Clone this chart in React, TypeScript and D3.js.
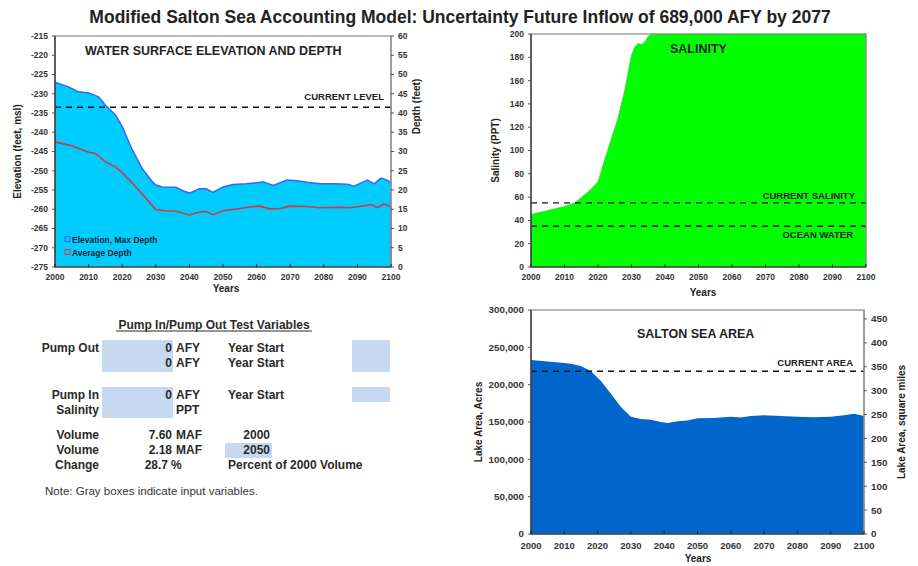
import React from 'react';
import * as d3 from 'd3';

const FONT = "'Liberation Sans', Arial, Helvetica, sans-serif";

// Water surface elevation (ft, msl) — top of the blue area
const elevYears = [2000, 2004, 2007, 2010, 2013, 2015, 2018, 2020, 2023, 2026, 2029, 2030, 2032, 2036, 2038, 2040, 2043, 2045, 2047, 2050, 2053, 2057, 2062, 2065, 2069, 2072, 2075, 2079, 2083, 2087, 2089, 2091, 2093, 2095, 2097, 2099, 2100];
const elevation = [-227, -228.2, -229.5, -229.8, -230.8, -233, -235.5, -238.5, -244.6, -249.5, -252.9, -253.7, -254.2, -254.3, -255.2, -255.8, -254.7, -254.7, -255.6, -254.2, -253.6, -253.4, -252.9, -253.8, -252.4, -252.6, -253, -253.4, -253.4, -253.5, -254, -253.2, -252.4, -253.4, -251.9, -252.5, -253];

// Average depth (ft) — red line, right axis
const depthYears = [2000, 2005, 2010, 2012, 2015, 2018, 2020, 2023, 2027, 2030, 2033, 2036, 2040, 2043, 2045, 2047, 2050, 2055, 2058, 2061, 2064, 2067, 2070, 2075, 2079, 2084, 2088, 2091, 2094, 2096, 2098, 2100];
const avgDepth = [32.5, 31.5, 29.8, 29.5, 27.3, 26, 24.5, 21.8, 17.9, 14.9, 14.6, 14.5, 13.5, 14.3, 14.4, 13.6, 14.6, 15.2, 15.6, 15.8, 15.1, 15.2, 15.8, 15.7, 15.4, 15.5, 15.4, 15.8, 16.2, 15.4, 16.4, 15.6];

// Salinity (PPT)
const salYears = [2000, 2005, 2010, 2013, 2016, 2018, 2020, 2022, 2024, 2026, 2028, 2030, 2031, 2032, 2033, 2034, 2035, 2036, 2040, 2050, 2060, 2070, 2080, 2090, 2100];
const salinity = [45, 48.5, 52, 55, 62, 67, 73, 92, 110, 128, 152, 182, 189, 192, 191, 193, 198, 205, 225, 250, 265, 275, 280, 285, 290];

// Lake area (acres)
const areaYears = [2000, 2005, 2010, 2012, 2015, 2018, 2021, 2024, 2027, 2030, 2033, 2036, 2039, 2041, 2044, 2047, 2050, 2055, 2060, 2063, 2066, 2070, 2075, 2080, 2085, 2090, 2094, 2097, 2100];
const lakeArea = [233000, 231000, 229000, 228000, 225000, 218000, 205000, 188000, 170000, 157000, 154000, 153000, 150000, 148500, 151000, 152000, 155000, 155500, 157000, 156000, 158000, 159000, 158000, 157000, 156500, 157000, 159000, 161000, 158000];

// Reference levels
const currentLevel = -233.5;
const currentSalinity = 55;
const oceanSalinity = 35;
const currentArea = 218000;

const yearTicks = d3.range(2000, 2101, 10);
const elevTicks = d3.range(-275, -214, 5);
const depthTicks = d3.range(0, 61, 5);
const salTicks = d3.range(0, 201, 20);
const acreTicks = d3.range(0, 300001, 50000);
const sqmiTicks = d3.range(0, 451, 50);

const BLUE_LIGHT = '#00CCFF';
const BLUE_LINE = '#3366FF';
const RED = '#D23A3A';
const GREEN = '#00FF00';
const BLUE_DARK = '#0066CC';
const INPUT = '#C6D9F1';
const INK = '#222';

type Box = { x0: number; x1: number; y0: number; y1: number };

function Frame({ b }: { b: Box }) {
  return (
    <rect x={b.x0} y={b.y0} width={b.x1 - b.x0} height={b.y1 - b.y0}
      fill="none" stroke="#8a8a8a" strokeWidth={1.2} />
  );
}

function XAxis({ b, x, fs, dy }: { b: Box; x: d3.ScaleLinear<number, number>; fs: number; dy: number }) {
  return (
    <g>
      <line x1={b.x0} x2={b.x1} y1={b.y1} y2={b.y1} stroke={INK} strokeWidth={1.2} />
      {yearTicks.map(t => (
        <g key={t}>
          <line x1={x(t)} x2={x(t)} y1={b.y1} y2={b.y1 - 3} stroke={INK} />
          <text x={x(t)} y={b.y1 + dy} textAnchor="middle" fontSize={fs} fontWeight="bold" fill="#333">{t}</text>
        </g>
      ))}
    </g>
  );
}

function YAxis({ b, y, ticks, fs, side, fmt }: {
  b: Box; y: d3.ScaleLinear<number, number>; ticks: number[]; fs: number; side: 'left' | 'right'; fmt: (v: number) => string;
}) {
  const ax = side === 'left' ? b.x0 : b.x1;
  const tx = side === 'left' ? ax - 7 : ax + 7;
  return (
    <g>
      <line x1={ax} x2={ax} y1={b.y0} y2={b.y1} stroke={side === 'left' ? INK : '#8a8a8a'} strokeWidth={1.2} />
      {ticks.map(t => (
        <g key={t}>
          <line x1={ax} x2={side === 'left' ? ax - 3 : ax + 3} y1={y(t)} y2={y(t)} stroke="#555" />
          <text x={tx} y={y(t)} dy="0.35em" textAnchor={side === 'left' ? 'end' : 'start'}
            fontSize={fs} fontWeight="bold" fill="#333">{fmt(t)}</text>
        </g>
      ))}
    </g>
  );
}

function Dashed({ b, yv }: { b: Box; yv: number }) {
  return <line x1={b.x0} x2={b.x1} y1={yv} y2={yv} stroke="#111" strokeWidth={1.3} strokeDasharray="6,5" />;
}

const LABEL = { fontWeight: 'bold' as const, fill: INK };

function ElevationChart() {
  const b: Box = { x0: 55, x1: 391, y0: 36, y1: 267 };
  const x = d3.scaleLinear().domain([2000, 2100]).range([b.x0, b.x1]);
  const y = d3.scaleLinear().domain([-275, -215]).range([b.y1, b.y0]);
  const yd = d3.scaleLinear().domain([0, 60]).range([b.y1, b.y0]);
  const pts = elevYears.map((yr, i) => ({ yr, v: elevation[i] }));
  const area = d3.area<{ yr: number; v: number }>().x(d => x(d.yr)).y0(b.y1).y1(d => y(d.v));
  const topLine = d3.line<{ yr: number; v: number }>().x(d => x(d.yr)).y(d => y(d.v));
  const dpts = depthYears.map((yr, i) => ({ yr, v: avgDepth[i] }));
  const dLine = d3.line<{ yr: number; v: number }>().x(d => x(d.yr)).y(d => yd(d.v));
  return (
    <g>
      <path d={area(pts)!} fill={BLUE_LIGHT} />
      <path d={topLine(pts)!} fill="none" stroke={BLUE_LINE} strokeWidth={1.5} />
      <path d={dLine(dpts)!} fill="none" stroke={RED} strokeWidth={1.6} />
      <line x1={b.x1} x2={b.x1} y1={yd(avgDepth[avgDepth.length - 1])} y2={b.y1} stroke={RED} strokeWidth={1.2} />
      <Dashed b={b} yv={y(currentLevel)} />
      <Frame b={b} />
      <YAxis b={b} y={y} ticks={elevTicks} fs={8.5} side="left" fmt={v => String(v)} />
      <YAxis b={b} y={yd} ticks={depthTicks} fs={8.5} side="right" fmt={v => String(v)} />
      <XAxis b={b} x={x} fs={8.5} dy={13} />
      <text x={85} y={55} fontSize={12.5} {...LABEL}>WATER SURFACE ELEVATION AND DEPTH</text>
      <text x={384} y={100} textAnchor="end" fontSize={9.5} {...LABEL}>CURRENT LEVEL</text>
      <rect x={65} y={236.5} width={5} height={5} fill={BLUE_LIGHT} stroke={BLUE_LINE} strokeWidth={1} />
      <text x={72} y={242.5} fontSize={8.5} fontWeight="bold" fill="#223">Elevation, Max Depth</text>
      <rect x={65} y={249.5} width={5} height={5} fill={BLUE_LIGHT} stroke={RED} strokeWidth={1} />
      <text x={72} y={255.5} fontSize={8.5} fontWeight="bold" fill="#223">Average Depth</text>
      <text x={226} y={292} textAnchor="middle" fontSize={10} {...LABEL}>Years</text>
      <text transform={`translate(21,${(b.y0 + b.y1) / 2}) rotate(-90)`} textAnchor="middle" fontSize={10} {...LABEL}>Elevation (feet, msl)</text>
      <text transform={`translate(420,${(b.y0 + b.y1) / 2 - 45}) rotate(-90)`} textAnchor="middle" fontSize={10} {...LABEL}>Depth (feet)</text>
    </g>
  );
}

function SalinityChart() {
  const b: Box = { x0: 531, x1: 866, y0: 34, y1: 267 };
  const x = d3.scaleLinear().domain([2000, 2100]).range([b.x0, b.x1]);
  const y = d3.scaleLinear().domain([0, 200]).range([b.y1, b.y0]).clamp(true);
  const pts = salYears.map((yr, i) => ({ yr, v: salinity[i] }));
  const area = d3.area<{ yr: number; v: number }>().x(d => x(d.yr)).y0(b.y1).y1(d => y(d.v));
  return (
    <g>
      <path d={area(pts)!} fill={GREEN} stroke="#22cc22" strokeWidth={0.6} />
      <Dashed b={b} yv={y(currentSalinity)} />
      <Dashed b={b} yv={y(oceanSalinity)} />
      <Frame b={b} />
      <YAxis b={b} y={y} ticks={salTicks} fs={8.5} side="left" fmt={v => String(v)} />
      <XAxis b={b} x={x} fs={8.5} dy={13} />
      <text x={670} y={53} fontSize={12.5} {...LABEL}>SALINITY</text>
      <text x={855} y={199} textAnchor="end" fontSize={9.5} {...LABEL}>CURRENT SALINITY</text>
      <text x={853} y={238} textAnchor="end" fontSize={9.5} {...LABEL}>OCEAN WATER</text>
      <text x={703} y={296} textAnchor="middle" fontSize={10} {...LABEL}>Years</text>
      <text transform={`translate(499,${(b.y0 + b.y1) / 2}) rotate(-90)`} textAnchor="middle" fontSize={10} {...LABEL}>Salinity (PPT)</text>
    </g>
  );
}

function AreaChart() {
  const b: Box = { x0: 531, x1: 864, y0: 310, y1: 534 };
  const x = d3.scaleLinear().domain([2000, 2100]).range([b.x0, b.x1]);
  const y = d3.scaleLinear().domain([0, 300000]).range([b.y1, b.y0]);
  const ys = d3.scaleLinear().domain([0, 300000 / 640]).range([b.y1, b.y0]);
  const pts = areaYears.map((yr, i) => ({ yr, v: lakeArea[i] }));
  const area = d3.area<{ yr: number; v: number }>().x(d => x(d.yr)).y0(b.y1).y1(d => y(d.v));
  const fmt = d3.format(',');
  return (
    <g>
      <path d={area(pts)!} fill={BLUE_DARK} />
      <Dashed b={b} yv={y(currentArea)} />
      <Frame b={b} />
      <YAxis b={b} y={y} ticks={acreTicks} fs={9.8} side="left" fmt={v => fmt(v)} />
      <YAxis b={b} y={ys} ticks={sqmiTicks} fs={9.8} side="right" fmt={v => String(v)} />
      <XAxis b={b} x={x} fs={9.5} dy={15} />
      <text x={637} y={338} fontSize={12.5} {...LABEL}>SALTON SEA AREA</text>
      <text x={853} y={366} textAnchor="end" fontSize={9.5} {...LABEL}>CURRENT AREA</text>
      <text x={698} y={562} textAnchor="middle" fontSize={10} {...LABEL}>Years</text>
      <text transform={`translate(482,${(b.y0 + b.y1) / 2}) rotate(-90)`} textAnchor="middle" fontSize={10} {...LABEL}>Lake Area, Acres</text>
      <text transform={`translate(905,${(b.y0 + b.y1) / 2}) rotate(-90)`} textAnchor="middle" fontSize={10} {...LABEL}>Lake Area, square miles</text>
    </g>
  );
}

// Pump in / pump out test variable table
const tableRows = [
  { label: 'Pump Out', value: '0', unit: 'AFY', note: 'Year Start', y: 352 },
  { label: '', value: '0', unit: 'AFY', note: 'Year Start', y: 367 },
  { label: 'Pump In', value: '0', unit: 'AFY', note: 'Year Start', y: 399 },
  { label: 'Salinity', value: '', unit: 'PPT', note: '', y: 414 },
];
const volumeRows = [
  { label: 'Volume', value: '7.60', unit: 'MAF', note: '2000', y: 439 },
  { label: 'Volume', value: '2.18', unit: 'MAF', note: '2050', y: 454 },
  { label: 'Change', value: '28.7', unit: '%', note: 'Percent of 2000 Volume', y: 469 },
];

function InputTable() {
  const t = { fontSize: 12, fontWeight: 'bold' as const, fill: '#2a2a2a' };
  return (
    <g>
      <rect x={102} y={340} width={71} height={32} fill={INPUT} />
      <rect x={352} y={340} width={38} height={32} fill={INPUT} />
      <rect x={102} y={387} width={71} height={31} fill={INPUT} />
      <rect x={352} y={387} width={38} height={15} fill={INPUT} />
      <rect x={225} y={443} width={47} height={15} fill={INPUT} />
      <text x={214} y={329} textAnchor="middle" {...t}>Pump In/Pump Out Test Variables</text>
      <line x1={116} x2={312} y1={331} y2={331} stroke="#2a2a2a" strokeWidth={1} />
      {tableRows.map((r, i) => (
        <g key={i}>
          {r.label && <text x={99} y={r.y} textAnchor="end" {...t}>{r.label}</text>}
          {r.value && <text x={172} y={r.y} textAnchor="end" {...t}>{r.value}</text>}
          <text x={176} y={r.y} {...t}>{r.unit}</text>
          {r.note && <text x={228} y={r.y} {...t}>{r.note}</text>}
        </g>
      ))}
      {volumeRows.map((r, i) => (
        <g key={i}>
          <text x={99} y={r.y} textAnchor="end" {...t}>{r.label}</text>
          <text x={i < 2 ? 172 : 168} y={r.y} textAnchor="end" {...t}>{r.value}</text>
          <text x={i < 2 ? 176 : 171} y={r.y} {...t}>{r.unit}</text>
          {i < 2
            ? <text x={270} y={r.y} textAnchor="end" {...t}>{r.note}</text>
            : <text x={228} y={r.y} {...t}>{r.note}</text>}
        </g>
      ))}
      <text x={45} y={495} fontSize={11.5} fill="#333">Note: Gray boxes indicate input variables.</text>
    </g>
  );
}

export default function App() {
  return (
    <svg width={918} height={566} viewBox="0 0 918 566"
      style={{ position: 'absolute', left: 0, top: 0, background: '#fff', fontFamily: FONT }}>
      <rect width={918} height={566} fill="#fff" />
      <text x={460} y={23} textAnchor="middle" fontSize={17.5} fontWeight="bold" fill={INK}>
        Modified Salton Sea Accounting Model: Uncertainty Future Inflow of 689,000 AFY by 2077
      </text>
      <ElevationChart />
      <SalinityChart />
      <AreaChart />
      <InputTable />
    </svg>
  );
}
